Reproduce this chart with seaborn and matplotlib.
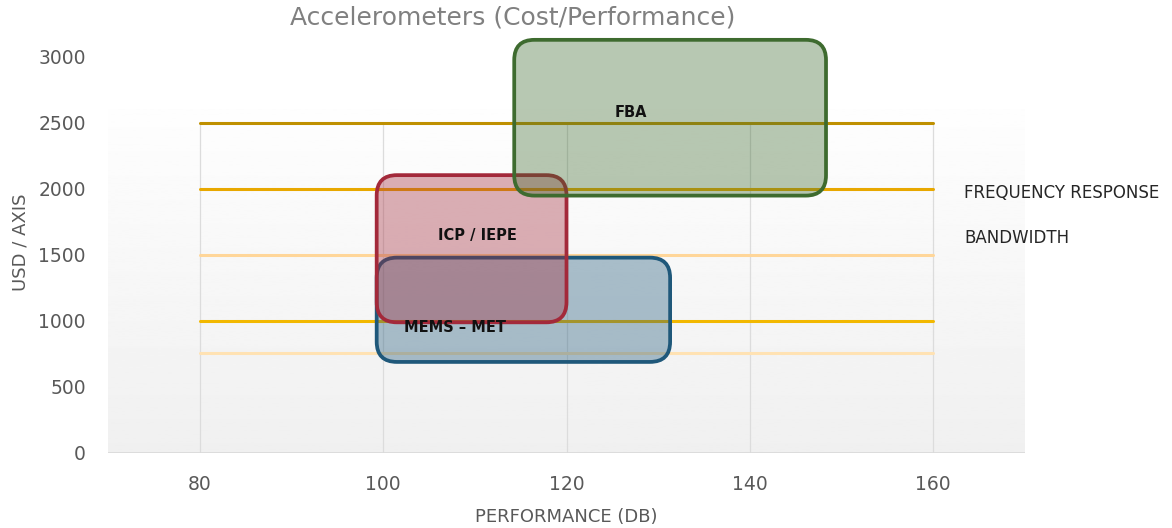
import numpy as np
import pandas as pd
import matplotlib
matplotlib.use("Agg")
import matplotlib.pyplot as plt
from matplotlib.patches import FancyBboxPatch
import seaborn as sns

# ── Data ───────────────────────────────────────────────────────────
box_names  = ["MEMS – MET", "ICP / IEPE", "FBA"]
box_x0     = [99.3, 99.3, 114.3]
box_x1     = [131.3, 120.0, 148.3]
box_y0     = [690, 990, 1950]
box_y1     = [1480, 2105, 3130]
box_colors = ["#1F587A", "#A3293A", "#3E6B2F"]
label_x    = [107.8, 110.3, 127.0]
label_y    = [947, 1650, 2576]

band_levels = [2500, 2000, 1500, 1000, 760]
band_colors = ["#BF9000", "#E8A800", "#FFD699", "#F2B800", "#FFE2B3"]
band_x      = [80, 160]

side_labels = ["FREQUENCY RESPONSE", "BANDWIDTH"]
side_y      = [1970, 1630]

x_ticks = [80, 100, 120, 140, 160]
y_ticks = [0, 500, 1000, 1500, 2000, 2500, 3000]

# ── Style ──────────────────────────────────────────────────────────
sns.set_theme(style="white")
plt.rcParams['font.family'] = ['DejaVu Sans']
TICK = '#595959'

fig = plt.figure(figsize=(11.72, 5.28), dpi=100)
ax = fig.add_axes([108 / 1172, 1 - 453 / 528, 917 / 1172, 422.4 / 528])
ax.set_xlim(70, 170)
ax.set_ylim(0, 3200)

# gradient plot area
grad = np.linspace(0.94, 0.995, 256).reshape(-1, 1)
ax.imshow(grad, extent=[70, 170, 0, 2600], origin='lower', aspect='auto',
          cmap='gray', vmin=0, vmax=1, zorder=0)
ax.vlines(x_ticks, 0, 2500, color='#DCDCDC', lw=0.9, zorder=1)
ax.plot([70, 170], [0, 0], color='#D9D9D9', lw=1.2, zorder=1)

# horizontal band lines
lines = pd.DataFrame([(x, lvl, lvl) for lvl in band_levels for x in band_x],
                     columns=['x', 'y', 'level'])
sns.lineplot(data=lines, x='x', y='y', hue='level',
             palette=dict(zip(band_levels, band_colors)),
             linewidth=2.2, legend=False, ax=ax, zorder=2)

# rounded boxes (later ones drawn on top)
aspect = 69.5
for i, (x0, x1, y0, y1, c) in enumerate(zip(box_x0, box_x1, box_y0, box_y1, box_colors)):
    patch = FancyBboxPatch((x0, y0), x1 - x0, y1 - y0,
                           boxstyle="round,pad=0,rounding_size=2.2",
                           mutation_aspect=aspect,
                           facecolor=matplotlib.colors.to_rgba(c, 0.37),
                           edgecolor=c, lw=2.7, zorder=3 + i * 0.1)
    ax.add_patch(patch)

for name, lx, ly in zip(box_names, label_x, label_y):
    ax.text(lx, ly, name, ha='center', va='center', fontsize=10.5,
            fontweight='bold', color='#111111', zorder=4)

for lab, sy in zip(side_labels, side_y):
    ax.text(163.4, sy, lab, ha='left', va='center', fontsize=12,
            color='#262626', zorder=4)

# axes
ax.set_xticks(x_ticks)
ax.set_yticks(y_ticks)
ax.tick_params(axis='both', length=0, labelsize=13.5, colors=TICK)
ax.tick_params(axis='y', pad=16)
ax.tick_params(axis='x', pad=16)
for s in ax.spines.values():
    s.set_visible(False)
ax.grid(False)
ax.set_xlabel('PERFORMANCE (DB)', fontsize=13, color=TICK, labelpad=10)
ax.set_ylabel('USD / AXIS', fontsize=13, color=TICK, labelpad=6)
ax.set_facecolor('white')

fig.text(513 / 1172, 1 - 18 / 528, 'Accelerometers (Cost/Performance)',
         ha='center', va='center', fontsize=18, color='#808080')

plt.savefig('out.png', dpi=100)
plt.close()
